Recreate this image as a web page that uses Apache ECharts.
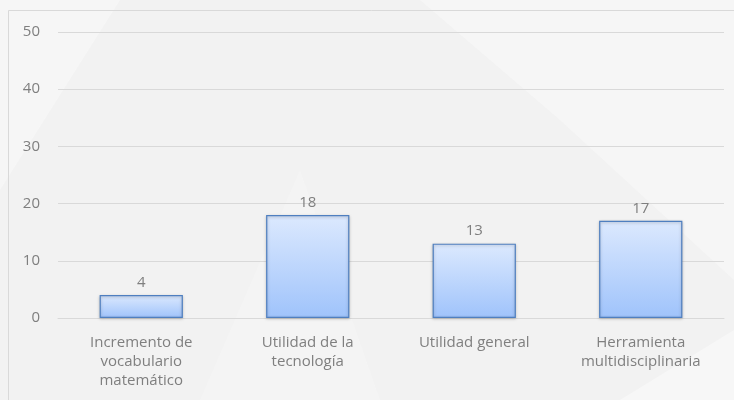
<!DOCTYPE html>
<html><head><meta charset="UTF-8">
<title>ECharts</title>
<script src="https://cdn.jsdelivr.net/npm/echarts@6/dist/echarts.min.js"></script>
<style>
  html, body { margin: 0; padding: 0; background: #f2f2f2; }
  #g1 { width: 734px; height: 400px; }
</style>
</head>
<body>
<div id="g1"></div>
<script type="text/javascript">
// datos del gráfico
var categorias = ['Incremento de\nvocabulario\nmatemático', 'Utilidad de la\ntecnología', 'Utilidad general', 'Herramienta\nmultidisciplinaria'];
var valores = [4, 18, 13, 17];
var ejeY = { min: 0, max: 50, interval: 10 };

var gris = '#7f7f7f';
var fuente = '"Open Sans", "Noto Sans", sans-serif';

var option = {
    backgroundColor: '#f2f2f2',
    animation: false,
    graphic: [
        // formas decorativas del fondo
        { type: 'polygon', silent: true, z: -10, shape: { points: [[0, 0], [120, 0], [0, 190]] }, style: { fill: 'rgba(255,255,255,0.35)' } },
        { type: 'polygon', silent: true, z: -10, shape: { points: [[420, 0], [734, 0], [734, 280], [560, 120]] }, style: { fill: 'rgba(255,255,255,0.3)' } },
        { type: 'polygon', silent: true, z: -10, shape: { points: [[200, 400], [300, 170], [380, 400]] }, style: { fill: 'rgba(255,255,255,0.2)' } },
        { type: 'polygon', silent: true, z: -10, shape: { points: [[620, 400], [734, 330], [734, 400]] }, style: { fill: 'rgba(255,255,255,0.4)' } },
        { type: 'rect', silent: true, z: -5, shape: { x: 8.5, y: 10.5, width: 740, height: 400 }, style: { fill: 'none', stroke: '#d9d9d9', lineWidth: 1 } }
    ],
    grid: { left: 58, right: 10, top: 32, bottom: 82 },
    xAxis: {
        type: 'category',
        data: categorias,
        axisLine: { show: true, lineStyle: { color: '#d9d9d9' } },
        axisTick: { show: false },
        axisLabel: { color: gris, fontFamily: fuente, fontSize: 15, lineHeight: 19, margin: 15, interval: 0 }
    },
    yAxis: {
        type: 'value',
        min: ejeY.min, max: ejeY.max, interval: ejeY.interval,
        axisLine: { show: false },
        axisTick: { show: false },
        axisLabel: { color: gris, fontFamily: fuente, fontSize: 15, margin: 18 },
        splitLine: { lineStyle: { color: '#d9d9d9' } }
    },
    series: [{
        type: 'bar',
        data: valores,
        barWidth: '50%',
        itemStyle: {
            color: new echarts.graphic.LinearGradient(0, 0, 0, 1, [
                { offset: 0, color: '#dce9fe' },
                { offset: 1, color: '#9fc3fb' }
            ]),
            borderColor: '#4f7fc0',
            borderWidth: 1.2,
            shadowColor: 'rgba(0,0,0,0.25)',
            shadowBlur: 3,
            shadowOffsetY: 1
        },
        label: { show: true, position: 'top', distance: 5, color: gris, fontFamily: fuente, fontSize: 15 }
    }]
};

var myChart = echarts.init(document.getElementById('g1'));
myChart.setOption(option);
</script>
</body></html>
